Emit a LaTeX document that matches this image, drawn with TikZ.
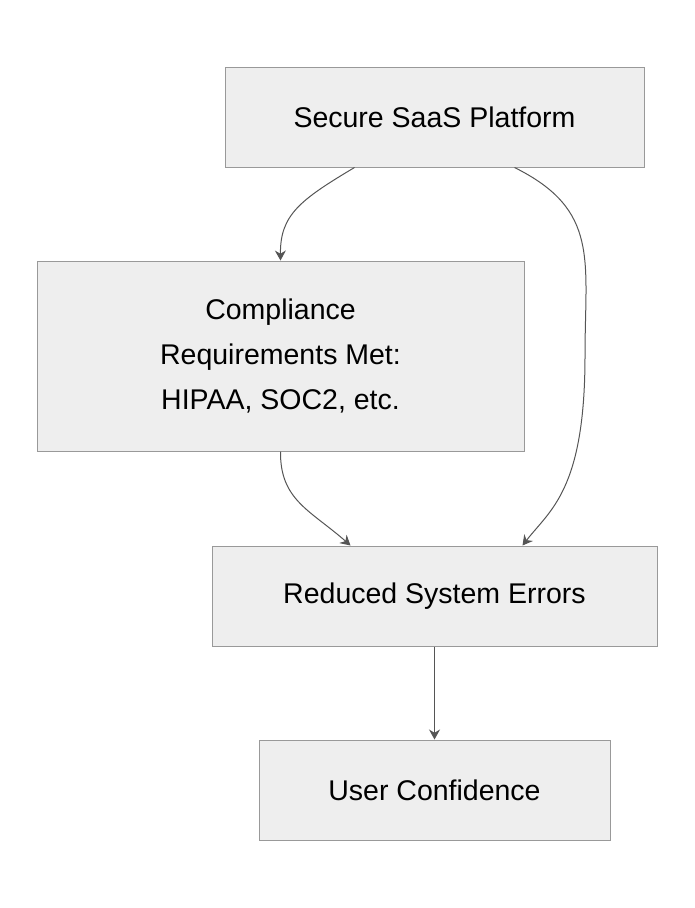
\documentclass[tikz,border=0pt]{standalone}
\usepackage{fontspec}
\setmainfont{Liberation Sans}
\usetikzlibrary{arrows.meta}
\definecolor{boxfill}{HTML}{EEEEEE}
\definecolor{boxline}{HTML}{999999}
\definecolor{edge}{HTML}{555555}
\begin{document}
\begin{tikzpicture}[x=1pt,y=-1pt,
    box/.style={draw=boxline,fill=boxfill,line width=1pt,align=center,
      font=\fontsize{28.5}{45}\selectfont,inner sep=0pt},
    link/.style={draw=edge,line width=1pt,-{Stealth[length=10pt,width=11pt]}}]
        \useasboundingbox (0,0) rectangle (694,908);
        % boxes
        \node[box,minimum width=419pt,minimum height=100pt] (sec) at (434.5,117) {Secure SaaS Platform};
        \node[box,minimum width=487pt,minimum height=190pt] (comp) at (280.5,356) {Compliance\\Requirements Met:\\HIPAA, SOC2, etc.};
        \node[box,minimum width=445pt,minimum height=100pt] (red) at (434.5,596) {Reduced System Errors};
        \node[box,minimum width=351pt,minimum height=100pt] (user) at (434.5,790) {User Confidence};

        % links
        \draw[link] ([xshift=-80pt]sec.south) .. controls (300,200) and (280,215) .. (comp.north);
        \draw[link] ([xshift=80pt]sec.south) .. controls (600,210) and (585,260) .. (585,356) .. controls (585,490) and (550,510) .. ([xshift=88pt]red.north);
        \draw[link] (comp.south) .. controls (280,500) and (310,510) .. ([xshift=-84pt]red.north);
        \draw[link] (red) -- (user);
    \end{tikzpicture}
\end{document}
